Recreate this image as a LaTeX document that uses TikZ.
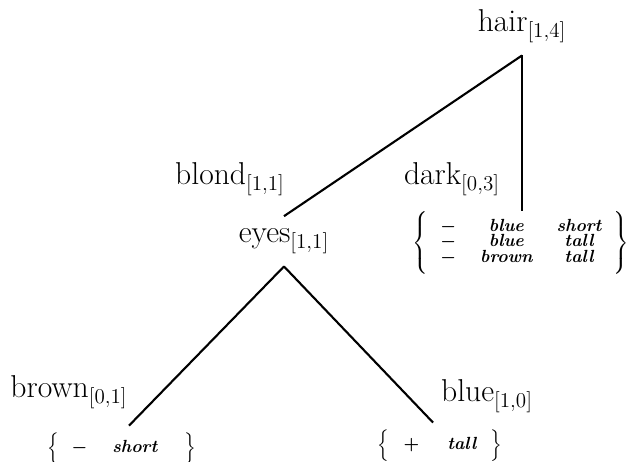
\documentclass[tikz,border=0pt]{standalone}
\usepackage{amsmath}
\usepackage{tikz}
\usetikzlibrary{positioning}

% entries of an instance set
\newcommand{\iv}[1]{\text{\bfseries\itshape #1}}

\begin{document}
\begin{tikzpicture}[
    x=0.02cm, y=-0.02cm,
    feature/.style={inner xsep=0pt, inner ysep=0.25cm, anchor=base,
        font=\fontsize{18}{20}\selectfont},
    attrvalue/.style={inner sep=0pt, anchor=base,
        font=\fontsize{18}{20}\selectfont},
    instances/.style={inner sep=0pt, font=\fontsize{10}{11}\selectfont\boldmath},
    branch/.style={line width=1.2pt}
]
\useasboundingbox (0,0) rectangle (636,462);

% Raiz e ramo dark
\node[feature] (hair) at (522,32) {hair$_{[1,4]}$};
\node[attrvalue] (blond) at (230,185) {blond$_{[1,1]}$};
\node[attrvalue] (dark) at (452,185) {dark$_{[0,3]}$};
\node[instances] (darkset) at (521,244)
    {$\setlength{\arraycolsep}{0.24cm}\left\{\rule[-0.58cm]{0pt}{1.26cm}
    \begin{array}{ccc}
    - & \iv{blue} & \iv{short}\\[-2pt]
    - & \iv{blue} & \iv{tall}\\[-2pt]
    - & \iv{brown} & \iv{tall}
    \end{array}\right\}$};

% Subarvore eyes
\node[feature] (eyes) at (284,243) {eyes$_{[1,1]}$};
\node[attrvalue] (brown) at (69,398) {brown$_{[0,1]}$};
\node[attrvalue] (blue) at (487,402) {blue$_{[1,0]}$};
\node[instances] (brownset) at (122,449)
    {$\setlength{\arraycolsep}{0.25cm}\left\{\rule[-0.22cm]{0pt}{0.54cm}
    \begin{array}{cc} - & \iv{short} \end{array}\hspace{0.3cm}\right\}$};
\node[instances] (blueset) at (440,446)
    {$\setlength{\arraycolsep}{0.28cm}\left\{\rule[-0.22cm]{0pt}{0.54cm}
    \begin{array}{cc} + & \iv{tall} \end{array}\right\}$};

\draw[branch] (hair.south) -- (eyes.north);
\draw[branch] (hair.south) -- (hair.south |- darkset.north);
\draw[branch, shorten >=0.2cm] (eyes.south) -- (brownset.north);
\draw[branch, shorten >=0.2cm] (eyes.south) -- (blueset.north);

\end{tikzpicture}
\end{document}
